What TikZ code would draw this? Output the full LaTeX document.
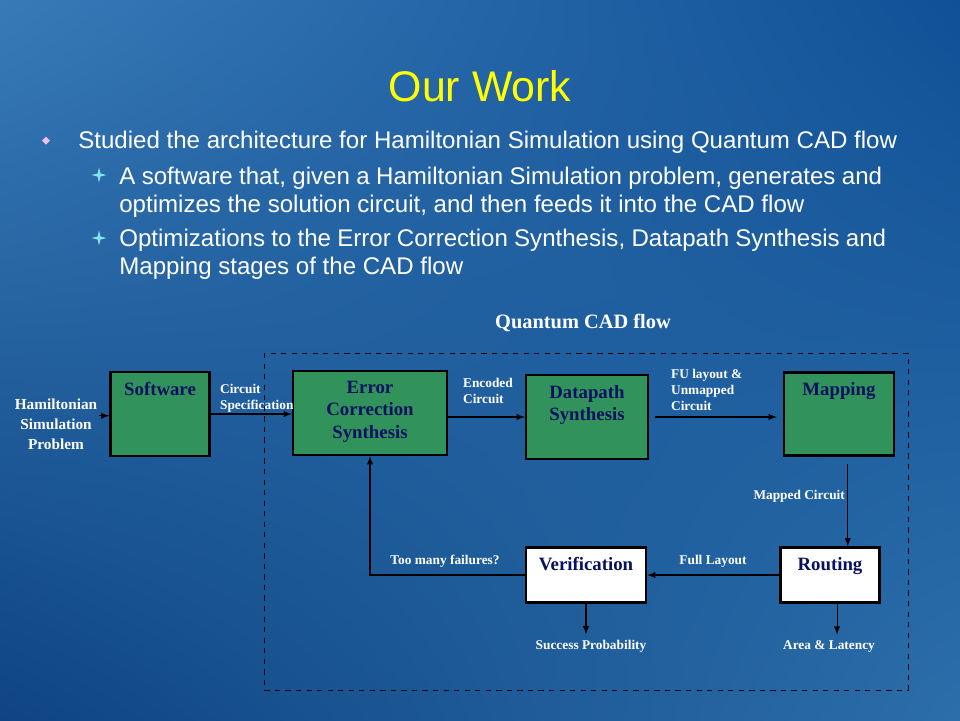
\documentclass[tikz,border=0pt]{standalone}
\usepackage{fontspec}
\setmainfont{Liberation Serif}
\newfontfamily\slidefont{Liberation Sans}
\usetikzlibrary{arrows,positioning,shadings}
\definecolor{bgA}{RGB}{56, 122, 184}
\definecolor{bgB}{RGB}{16, 80, 150}
\definecolor{bgC}{RGB}{14, 68, 130}
\definecolor{bgD}{RGB}{44, 110, 170}
\definecolor{titleyellow}{RGB}{255, 255, 0}
\definecolor{stagegreen}{RGB}{50, 146, 92}
\definecolor{navy}{RGB}{8, 16, 96}
\definecolor{dotpink}{RGB}{238, 190, 236}
\definecolor{starcyan}{RGB}{130, 228, 240}

\tikzset{
  stage/.style={draw=black, line width=1.4pt, fill=stagegreen},
  checkstage/.style={draw=black, line width=1.4pt, fill=white},
  boxtext/.style={anchor=north, yshift=-4.2pt, inner sep=2pt, text=navy, align=center,
    font=\bfseries\fontsize{10.7}{12.8}\selectfont},
  lbl/.style={text=white, inner sep=1pt, align=left, font=\bfseries\fontsize{7.6}{9.2}\selectfont},
  flow/.style={->, >=latex, black, line width=0.6pt},
  bullettext/.style={anchor=base west, inner sep=0pt, text=white, font=\slidefont\fontsize{13.7}{16}\selectfont}
}

\begin{document}
\begin{tikzpicture}[x=0.02cm, y=-0.02cm]
  % slide background
  \shade[upper left=bgA, upper right=bgB, lower left=bgC, lower right=bgD] (0,0) rectangle (960,720);
  \useasboundingbox (0,0) rectangle (960,720);

  % title and bullets
  \node[anchor=base, inner sep=0pt, text=titleyellow, font=\slidefont\fontsize{24.4}{28}\selectfont] (title) at (480,101) {Our Work};
  \fill[dotpink] (46,136.5) -- (50,140.5) -- (46,144.5) -- (42,140.5) -- cycle;
  \node[bullettext] (b1) at (78,148) {Studied the architecture for Hamiltonian Simulation using Quantum CAD flow};
  \foreach \y in {175,238}
    \fill[starcyan] (99,\y-7.5) -- (100.5,\y-1.5) -- (106.5,\y) -- (100.5,\y+1.5) -- (99,\y+7.5) -- (97.5,\y+1.5) -- (91.5,\y) -- (97.5,\y-1.5) -- cycle;
  \node[bullettext] (b2) at (119,184) {\makebox[15.26cm][s]{A software that, given a Hamiltonian Simulation problem, generates and}};
  \node[bullettext] (b3) at (119,212) {optimizes the solution circuit, and then feeds it into the CAD flow};
  \node[bullettext] (b4) at (119,246) {\makebox[15.34cm][s]{Optimizations to the Error Correction Synthesis, Datapath Synthesis and}};
  \node[bullettext] (b5) at (119,274) {Mapping stages of the CAD flow};

  % CAD flow frame
  \node[text=white, font=\bfseries\fontsize{11.6}{14}\selectfont] (cadtitle) at (583,323) {Quantum CAD flow};
  \draw[dashed, line width=0.5pt] (264,353) rectangle (908,690);

  % stages
  \node[stage, minimum width=1.98cm, minimum height=1.68cm, label={[boxtext]north:Software}] (soft) at (160,414) {};
  \node[stage, minimum width=3.08cm, minimum height=1.68cm, label={[boxtext]north:Error\\Correction\\Synthesis}] (ecs) at (370,413) {};
  \node[stage, minimum width=2.44cm, minimum height=1.68cm, label={[boxtext]north:Datapath\\Synthesis}] (dp) at (587,417) {};
  \node[stage, minimum width=2.2cm, minimum height=1.66cm, label={[boxtext]north:Mapping}] (map) at (839,414) {};
  \node[checkstage, minimum width=2.4cm, minimum height=1.1cm, label={[boxtext]north:Verification}] (ver) at (586,575) {};
  \node[checkstage, minimum width=1.98cm, minimum height=1.1cm, label={[boxtext]north:Routing}] (rout) at (830,575) {};

  % labels
  \node[lbl, align=center, font=\bfseries\fontsize{8.7}{11.3}\selectfont] (ham) at (56,424) {Hamiltonian\\Simulation\\Problem};
  \node[lbl, anchor=north west] (circspec) at (218,382) {Circuit\\Specification};
  \node[lbl, anchor=north west] (encoded) at (461,376) {Encoded\\Circuit};
  \node[lbl, anchor=north west] (unmapped) at (669,367) {FU layout \&\\Unmapped\\Circuit};
  \node[lbl, anchor=north east] (mapped) at (847,488) {Mapped Circuit};
  \node[lbl] (fulllayout) at (713,561) {Full Layout};
  \node[lbl] (failures) at (445,561) {Too many failures?};
  \node[lbl] (succ) at (591,646) {Success Probability};
  \node[lbl] (area) at (829,646) {Area \& Latency};

  % connectors
  \draw[flow] ([yshift=-1pt]soft.west -| ham.east) -- ([yshift=-1pt]soft.west);
  \draw[flow] (soft.east) -- (soft.east -| ecs.west);
  \draw[flow] (dp.west -| ecs.east) -- (dp.west);
  \draw[flow, shorten <=3.4pt, shorten >=3.4pt] (dp.east) -- (dp.east -| map.west);
  \draw[flow, shorten <=4pt] ([xshift=5pt]map.south) -- ([xshift=5pt]map.south |- rout.north);
  \draw[flow] (rout.west) -- (rout.west -| ver.east);
  \draw[flow] (ver.west) -| (ecs.south);
  \draw[flow, shorten >=2pt] (ver.south) -- (ver.south |- succ.north);
  \draw[flow, shorten >=2pt] ([xshift=4pt]rout.south) -- ([xshift=4pt]rout.south |- area.north);
\end{tikzpicture}
\end{document}
